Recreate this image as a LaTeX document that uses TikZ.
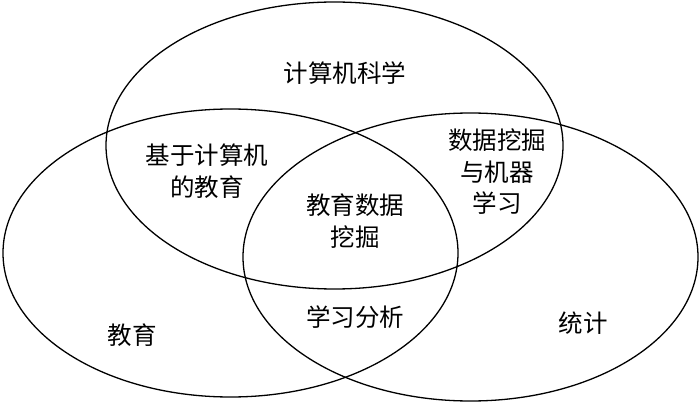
\documentclass[tikz,border=0pt]{standalone}
\usepackage{fontspec}
\newfontfamily\cjk{Noto Sans CJK SC}
\begin{document}
\begin{tikzpicture}[x=1pt,y=-1pt,
  setring/.style={draw=black,line width=1.3pt},
  lbl/.style={font=\cjk\fontsize{24.5}{31.5}\selectfont,align=center,inner sep=0pt}]
\useasboundingbox (0,0) rectangle (700,403);
\draw[setring] (334.5,145.5) ellipse [x radius=228.5, y radius=143.5];
\draw[setring] (230.5,253) ellipse [x radius=227.5, y radius=144];
\draw[setring] (470.5,257) ellipse [x radius=227.5, y radius=144];
\node[lbl] (cs) at (345,73) {计算机科学};
\node[lbl] (cbe) at (207,171) {基于计算机\\的教育};
\node[lbl] (dm) at (497,172) {数据挖掘\\与机器\\学习};
\node[lbl] (edm) at (355,221) {教育数据\\挖掘};
\node[lbl] (la) at (355,317) {学习分析};
\node[lbl] (ed) at (132,335) {教育};
\node[lbl] (st) at (583,323) {统计};
\end{tikzpicture}
\end{document}
